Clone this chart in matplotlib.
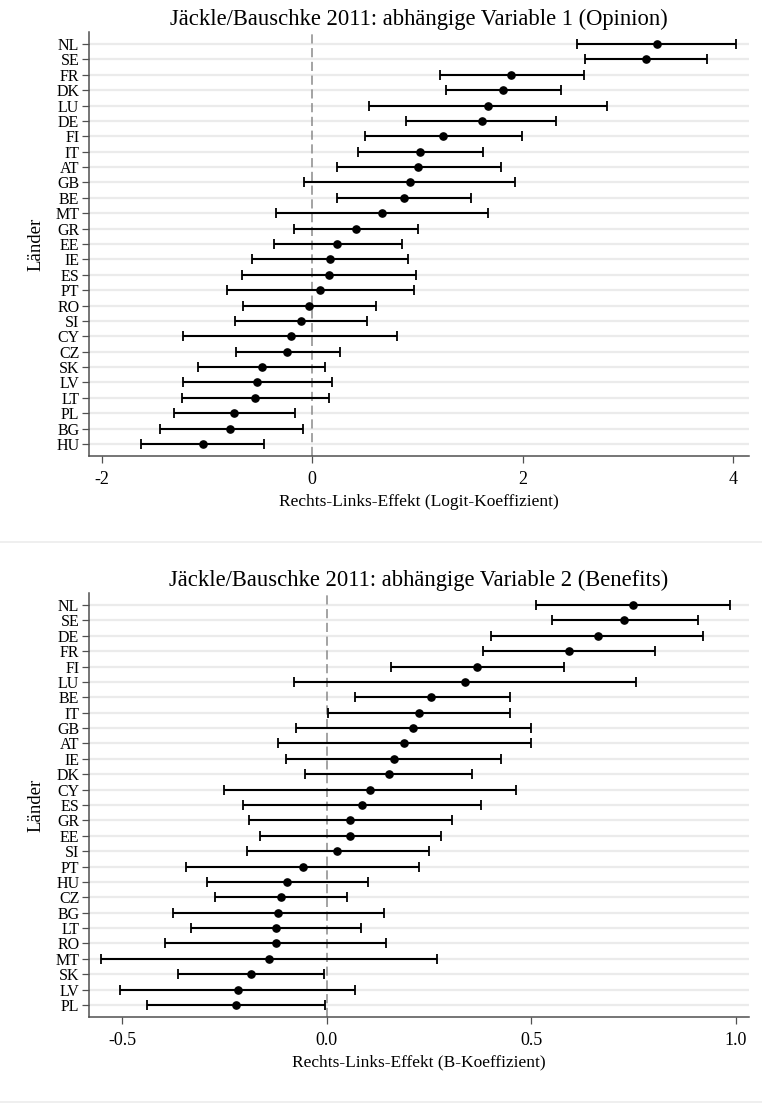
import matplotlib

matplotlib.use("Agg")
import matplotlib.pyplot as plt
import numpy as np
from matplotlib.lines import Line2D

plt.rcParams["font.family"] = ["Liberation Serif", "DejaVu Serif"]

# Modell 1: Opinion (Logit-Koeffizienten, 95%-KI)
op_land = ["NL", "SE", "FR", "DK", "LU", "DE", "FI", "IT", "AT", "GB", "BE", "MT",
           "GR", "EE", "IE", "ES", "PT", "RO", "SI", "CY", "CZ", "SK", "LV", "LT",
           "PL", "BG", "HU"]
op_coef = [3.28, 3.17, 1.89, 1.81, 1.67, 1.61, 1.24, 1.02, 1.01, 0.93, 0.875, 0.66,
           0.42, 0.24, 0.17, 0.16, 0.07, -0.03, -0.11, -0.20, -0.24, -0.48, -0.52, -0.54,
           -0.74, -0.78, -1.04]
op_lo = [2.52, 2.59, 1.21, 1.27, 0.54, 0.89, 0.50, 0.44, 0.24, -0.08, 0.24, -0.34,
         -0.17, -0.36, -0.57, -0.67, -0.81, -0.66, -0.73, -1.23, -0.72, -1.08, -1.23, -1.24,
         -1.31, -1.45, -1.63]
op_hi = [4.03, 3.75, 2.58, 2.36, 2.80, 2.32, 1.99, 1.62, 1.79, 1.93, 1.51, 1.67,
         1.01, 0.85, 0.91, 0.99, 0.97, 0.61, 0.52, 0.81, 0.26, 0.125, 0.19, 0.16,
         -0.16, -0.09, -0.46]

# Modell 2: Benefits (B-Koeffizienten, 95%-KI)
be_land = ["NL", "SE", "DE", "FR", "FI", "LU", "BE", "IT", "GB", "AT", "IE", "DK",
           "CY", "ES", "GR", "EE", "SI", "PT", "HU", "CZ", "BG", "LT", "RO", "MT",
           "SK", "LV", "PL"]
be_coef = [0.748, 0.727, 0.662, 0.592, 0.368, 0.339, 0.256, 0.225, 0.211, 0.19, 0.164, 0.151,
           0.105, 0.085, 0.058, 0.058, 0.025, -0.058, -0.096, -0.112, -0.118, -0.125, -0.125, -0.142,
           -0.186, -0.218, -0.221]
be_lo = [0.512, 0.55, 0.402, 0.382, 0.156, -0.079, 0.068, 0.002, -0.075, -0.119, -0.099, -0.054,
         -0.25, -0.205, -0.189, -0.163, -0.195, -0.344, -0.292, -0.273, -0.376, -0.332, -0.395, -0.551,
         -0.363, -0.505, -0.439]
be_hi = [0.985, 0.907, 0.92, 0.802, 0.58, 0.757, 0.448, 0.448, 0.498, 0.50, 0.425, 0.356,
         0.462, 0.376, 0.307, 0.28, 0.249, 0.226, 0.10, 0.05, 0.14, 0.083, 0.145, 0.27,
         -0.007, 0.068, -0.004]

W, H = 762, 1103
fig = plt.figure(figsize=(W / 100, H / 100), dpi=100)
fig.patch.set_facecolor("white")

SPINE = "#505050"
GRID = "#ebebeb"


def px_axes(left, top, right, bottom):
    return fig.add_axes([left / W, 1 - bottom / H, (right - left) / W, (bottom - top) / H])


def coefplot(ax, land, coef, lo, hi, xlim, xticks, xticklabels, title, xlabel):
    n = len(land)
    y = np.arange(n)
    coef = np.asarray(coef)
    err = np.vstack([coef - np.asarray(lo), np.asarray(hi) - coef])
    for yi in y:
        ax.axhline(yi, color=GRID, lw=1.6, zorder=0)
    ax.axvline(0, color="#8a8a8a", lw=1.1, ls=(0, (6, 3)), zorder=1)
    ax.errorbar(coef, y, xerr=err, fmt="o", color="black", ms=5.2, lw=1.5,
                capsize=3.6, capthick=1.3, zorder=3)
    ax.set_xlim(*xlim)
    ax.set_ylim(n - 1 + 0.78, -0.78)
    ax.set_yticks(y)
    ax.set_yticklabels(land, fontsize=11.5)
    ax.set_xticks(xticks)
    ax.set_xticklabels(xticklabels, fontsize=13)
    ax.tick_params(axis="y", length=5, width=0.9, color=SPINE, pad=2)
    ax.tick_params(axis="x", length=5, width=0.9, color=SPINE, pad=6)
    for side in ("top", "right"):
        ax.spines[side].set_visible(False)
    for side in ("left", "bottom"):
        ax.spines[side].set_color(SPINE)
        ax.spines[side].set_linewidth(1.1)
    ax.set_title(title, fontsize=16.3, pad=5)
    ax.set_xlabel(xlabel, fontsize=12.5, labelpad=4)
    ax.set_ylabel("Länder", fontsize=13.5, labelpad=8)


ax1 = px_axes(89, 32, 749, 456)
coefplot(ax1, op_land, op_coef, op_lo, op_hi, (-2.12, 4.15),
         [-2, 0, 2, 4], ["-2", "0", "2", "4"],
         "Jäckle/Bauschke 2011: abhängige Variable 1 (Opinion)",
         "Rechts-Links-Effekt (Logit-Koeffizient)")

ax2 = px_axes(89, 593, 749, 1017)
coefplot(ax2, be_land, be_coef, be_lo, be_hi, (-0.581, 1.032),
         [-0.5, 0.0, 0.5, 1.0], ["-0.5", "0.0", "0.5", "1.0"],
         "Jäckle/Bauschke 2011: abhängige Variable 2 (Benefits)",
         "Rechts-Links-Effekt (B-Koeffizient)")

# faint frame lines under each panel
for yline in (542, 1101.5):
    fig.add_artist(Line2D([0, 1], [1 - yline / H] * 2, transform=fig.transFigure,
                          color="#ececec", lw=1.2))

fig.savefig("out.png", dpi=100, facecolor="white")
